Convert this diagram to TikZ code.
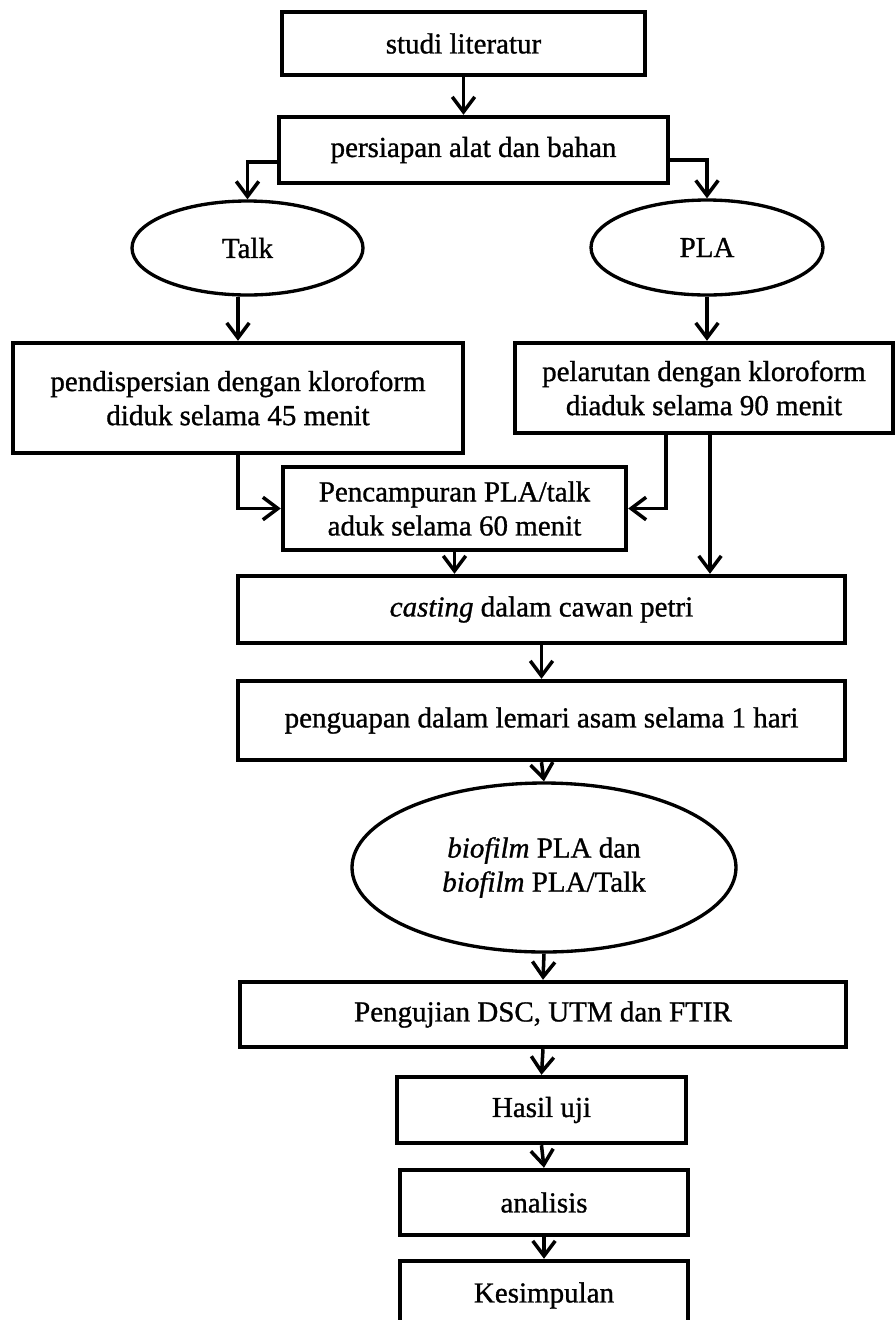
\documentclass[tikz,border=0pt]{standalone}
\usepackage{fontspec}
\setmainfont{Liberation Serif}[UprightFeatures={FakeBold=1}, ItalicFeatures={FakeBold=1}]
\usepackage{tikz}
\usetikzlibrary{arrows.meta,shapes.geometric}

\begin{document}
\begin{tikzpicture}[
  box/.style={draw, line width=2.5pt, rectangle, align=center, inner sep=0pt},
  oval/.style={draw, line width=1.9pt, ellipse, align=center, inner sep=0pt},
  arr/.style={line width=2pt, -{Straight Barb[length=0.3cm, width=0.45cm, line width=2pt]}},
  font=\fontsize{16.5}{19.4}\selectfont
]
\useasboundingbox (0,0) rectangle (17.92,-26.4);

% Boxes and ovals
\node[box, minimum width=7.26cm, minimum height=1.26cm] (studi) at (9.27,-0.87) {studi literatur};
\node[box, minimum width=7.78cm, minimum height=1.32cm] (siap) at (9.47,-3.0) {persiapan alat dan bahan};
\node[oval, minimum width=4.62cm, minimum height=1.88cm] (talk) at (4.95,-4.96) {Talk};
\node[oval, minimum width=4.64cm, minimum height=1.9cm] (pla) at (14.14,-4.95) {PLA};
\node[box, minimum width=9.0cm, minimum height=2.2cm] (disp) at (4.76,-7.96) {pendispersian dengan kloroform\\diduk selama 45 menit};
\node[box, minimum width=7.56cm, minimum height=1.8cm] (larut) at (14.08,-7.76) {pelarutan dengan kloroform\\diaduk selama 90 menit};
\node[box, minimum width=6.86cm, minimum height=1.66cm] (campur) at (9.09,-10.17) {Pencampuran PLA/talk\\aduk selama 60 menit};
\node[box, minimum width=12.14cm, minimum height=1.34cm] (cast) at (10.83,-12.19) {\textit{casting} dalam cawan petri};
\node[box, minimum width=12.14cm, minimum height=1.58cm] (uap) at (10.83,-14.41) {penguapan dalam lemari asam selama 1 hari};
\node[oval, minimum width=7.68cm, minimum height=3.38cm] (bio) at (10.88,-17.35) {\textit{biofilm} PLA dan\\\textit{biofilm} PLA/Talk};
\node[box, minimum width=12.12cm, minimum height=1.3cm] (uji) at (10.86,-20.29) {Pengujian DSC, UTM dan FTIR};
\node[box, minimum width=5.78cm, minimum height=1.32cm] (hasil) at (10.83,-22.2) {Hasil uji};
\node[box, minimum width=5.76cm, minimum height=1.3cm] (analisis) at (10.88,-24.05) {analisis};
\node[box, minimum width=5.76cm, minimum height=1.38cm] (simpul) at (10.88,-25.91) {Kesimpulan};

% Connectors
\draw[arr] (studi.south) -- (studi.south |- siap.north);
\draw[arr] ([yshift=-0.24cm]siap.west) -| (talk.north);
\draw[arr] ([yshift=-0.2cm]siap.east) -| (pla.north);
\draw[arr] (disp.north |- talk.south) -- (disp.north);
\draw[arr] (pla.south) -- (pla.south |- larut.north);
\draw[arr] (disp.south) |- (campur.west);
\draw[arr] ([xshift=-0.76cm]larut.south) |- (campur.east);
\draw[arr] ([xshift=0.12cm]larut.south) -- ([xshift=0.12cm]larut.south |- cast.north);
\draw[arr] (campur.south) -- (campur.south |- cast.north);
\draw[arr] (cast.south) -- (uap.north);
\draw[arr] (uap.south) -- (bio.north);
\draw[arr] (bio.south) -- (uji.north);
\draw[arr] (uji.south) -- (hasil.north);
\draw[arr] (hasil.south) -- (analisis.north);
\draw[arr] (analisis.south) -- (simpul.north);
\end{tikzpicture}
\end{document}
